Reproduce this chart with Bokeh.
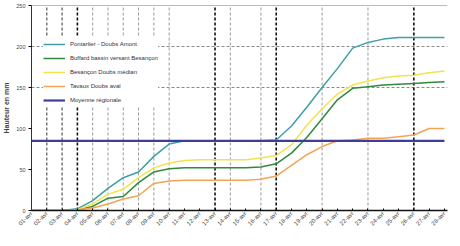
import math
from bokeh.plotting import figure
from bokeh.models import Range1d, FixedTicker, Span, Legend, LegendItem
from bokeh.embed import file_html
from bokeh.resources import INLINE

days = list(range(28))
date_labels = [f"{d:02d}-avr" for d in range(1, 29)]

pontarlier = [0, 0, 0, 2, 12, 27, 40, 47, 66, 81, 85, 85, 85, 85, 85, 85, 86, 103, 126, 150, 173, 198, 205, 209, 211, 211, 211, 211]
buffard = [0, 0, 0, 1, 5, 15, 17, 34, 47, 51, 52, 52, 52, 52, 52, 53, 57, 70, 89, 112, 135, 149, 151, 153, 154, 155, 156, 157]
besancon = [0, 0, 0, 1, 8, 20, 26, 40, 52, 58, 61, 62, 62, 62, 62, 64, 67, 80, 104, 124, 142, 153, 158, 162, 164, 165, 168, 170]
tavaux = [0, 0, 0, 1, 3, 8, 14, 18, 33, 36, 37, 37, 37, 37, 37, 38, 42, 55, 68, 78, 85, 86, 88, 88, 90, 92, 100, 100]
moyenne = [85] * 28

series_names = ["Pontarlier - Doubs Amont", "Buffard bassin versant Besançon",
                "Besançon Doubs médian", "Tavaux Doubs aval", "Moyenne régionale"]
series_values = [pontarlier, buffard, besancon, tavaux, moyenne]
series_colors = ["#3e9fa6", "#2f8a3c", "#f3e24e", "#f2a457", "#3d3d9e"]
series_widths = [1.5, 1.5, 1.5, 1.5, 2.2]

event_days = [1, 2, 3, 4, 5, 6, 7, 8, 9, 12, 13, 15, 16, 19, 22, 25]
major_days = [3, 12, 16, 25]
medium_days = [1, 2]

p = figure(frame_width=416, frame_height=205, output_backend="svg", toolbar_location=None,
           x_range=Range1d(0, 27.2), y_range=Range1d(0, 250),
           min_border_left=0, min_border_right=1, min_border_top=5, min_border_bottom=0)
p.background_fill_color = "white"
p.border_fill_color = "white"
p.outline_line_color = None
p.xgrid.visible = False
p.ygrid.ticker = FixedTicker(ticks=[150, 200])
p.ygrid.grid_line_color = "#8a8a8a"
p.ygrid.grid_line_dash = "3 2"
p.ygrid.grid_line_width = 1

p.add_layout(Span(location=250, dimension="width", line_color="#777777", line_width=1))

for d in event_days:
    if d in major_days:
        col, w = "#111111", 1.6
    elif d in medium_days:
        col, w = "#555555", 1.2
    else:
        col, w = "#9a9a9a", 1
    p.segment(x0=[d], y0=[0], x1=[d], y1=[250], line_color=col, line_width=w, line_dash="3 2")

items = []
for name, vals, col, w in zip(series_names, series_values, series_colors, series_widths):
    r = p.line(days, vals, line_color=col, line_width=w)
    items.append(LegendItem(label=name, renderers=[r]))

legend = Legend(items=items, location=(12, 103), orientation="vertical")
legend.label_text_font = "Liberation Sans"
legend.label_text_font_size = "6px"
legend.label_text_color = "#333333"
legend.glyph_width = 22
legend.glyph_height = 14
legend.label_height = 14
legend.spacing = 0
legend.padding = 3
legend.margin = 0
legend.border_line_color = None
legend.background_fill_color = "white"
legend.background_fill_alpha = 1
p.add_layout(legend)

p.yaxis.ticker = FixedTicker(ticks=[0, 50, 100, 150, 200, 250])
p.yaxis.axis_label = "Hauteur en mm"
p.yaxis.axis_label_text_font = "Liberation Sans"
p.yaxis.axis_label_text_font_style = "bold"
p.yaxis.axis_label_text_font_size = "7px"
p.yaxis.axis_label_standoff = 3
p.yaxis.major_label_standoff = 3
p.yaxis.major_label_text_font = "Liberation Sans"
p.yaxis.major_label_text_font_size = "5.5px"
p.yaxis.major_label_text_color = "#444444"
p.yaxis.major_tick_in = 0
p.yaxis.major_tick_out = 3
p.yaxis.minor_tick_line_color = None
p.yaxis.axis_line_color = "#333333"

p.xaxis.ticker = FixedTicker(ticks=days)
p.xaxis.major_label_overrides = {d: lab for d, lab in zip(days, date_labels)}
p.xaxis.major_label_orientation = math.pi / 4
p.xaxis.major_label_standoff = 2
p.xaxis.major_label_text_font = "Liberation Sans"
p.xaxis.major_label_text_font_size = "6px"
p.xaxis.major_label_text_color = "#444444"
p.xaxis.major_tick_in = 2
p.xaxis.major_tick_out = 0
p.xaxis.minor_tick_line_color = None
p.xaxis.axis_line_color = "#111111"
p.xaxis.axis_line_width = 1.5

open("out.html", "w").write(file_html(p, INLINE))
